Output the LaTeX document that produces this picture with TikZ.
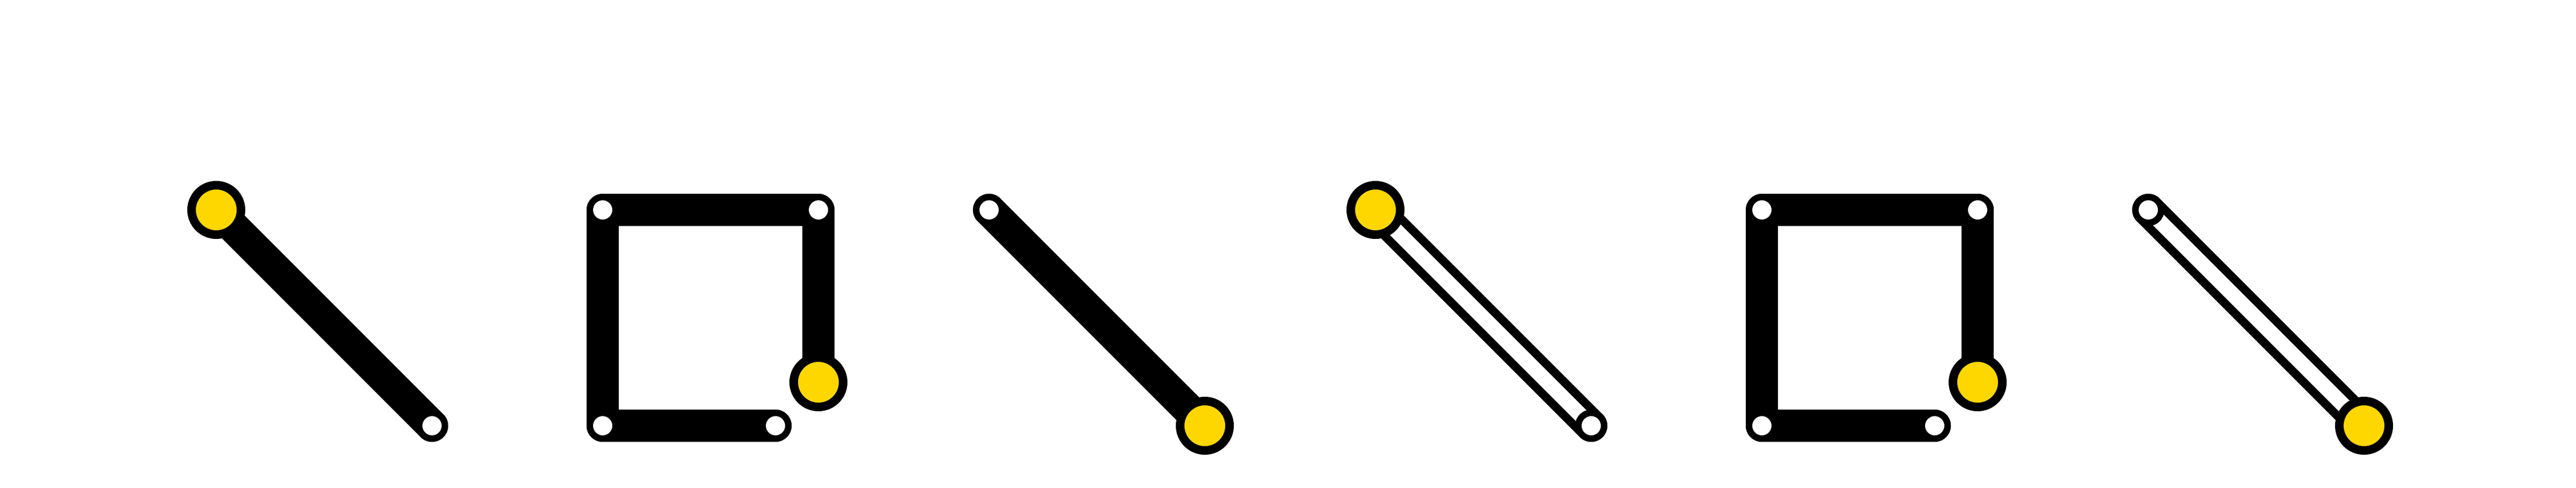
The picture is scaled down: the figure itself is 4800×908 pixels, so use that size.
\documentclass[tikz,border=0pt]{standalone}
\usetikzlibrary{backgrounds}
\definecolor{pivotyellow}{HTML}{FFD700}

\begin{document}
\begin{tikzpicture}[x=0.01cm, y=-0.01cm,
 pivot/.style={circle, draw=black, fill=pivotyellow, line width=0.16cm, inner sep=0pt, minimum size=0.92cm},
 hole/.style={circle, draw=black, fill=white, line width=0.12cm, inner sep=0pt, minimum size=0.48cm},
 solidbar/.style={draw=black, line width=0.6cm, line cap=round, line join=round},
 hollowbar/.style={draw=black, double=white, line width=0.16cm, double distance=0.28cm, line cap=round, line join=round}]
 \useasboundingbox (0,0) rectangle (4800,908);
%一本のリンク（固定点が左上）
 \begin{scope}[shift={(403,391)}]
 \node[pivot] (p1) at (0,0) {};
 \node[hole] (h1) at (402,402) {};
 \begin{pgfonlayer}{background}
 \draw[solidbar] (p1.center) -- (h1.center);
 \end{pgfonlayer}
 \end{scope}
%コの字のリンク
 \begin{scope}[shift={(1123,391)}]
 \node[hole] (h2a) at (0,0) {};
 \node[hole] (h2b) at (402,0) {};
 \node[hole] (h2c) at (0,402) {};
 \node[hole] (h2d) at (322,402) {};
 \node[pivot] (p2) at (402,321) {};
 \begin{pgfonlayer}{background}
 \draw[solidbar] (h2d.center) -- (h2c.center) -- (h2a.center) -- (h2b.center) -- (p2.center);
 \end{pgfonlayer}
 \end{scope}
%固定点が右下
 \begin{scope}[shift={(1843,391)}]
 \node[hole] (h3) at (0,0) {};
 \node[pivot] (p3) at (402,402) {};
 \begin{pgfonlayer}{background}
 \draw[solidbar] (h3.center) -- (p3.center);
 \end{pgfonlayer}
 \end{scope}
%中空のリンク
 \begin{scope}[shift={(2563,391)}]
 \node[pivot] (p4) at (0,0) {};
 \node[hole] (h4) at (402,402) {};
 \begin{pgfonlayer}{background}
 \draw[hollowbar] (p4.center) -- (h4.center);
 \end{pgfonlayer}
 \end{scope}
 \begin{scope}[shift={(3283,391)}]
 \node[hole] (h5a) at (0,0) {};
 \node[hole] (h5b) at (402,0) {};
 \node[hole] (h5c) at (0,402) {};
 \node[hole] (h5d) at (322,402) {};
 \node[pivot] (p5) at (402,321) {};
 \begin{pgfonlayer}{background}
 \draw[solidbar] (h5d.center) -- (h5c.center) -- (h5a.center) -- (h5b.center) -- (p5.center);
 \end{pgfonlayer}
 \end{scope}
 \begin{scope}[shift={(4003,391)}]
 \node[hole] (h6) at (0,0) {};
 \node[pivot] (p6) at (402,402) {};
 \begin{pgfonlayer}{background}
 \draw[hollowbar] (h6.center) -- (p6.center);
 \end{pgfonlayer}
 \end{scope}
\end{tikzpicture}
\end{document}
